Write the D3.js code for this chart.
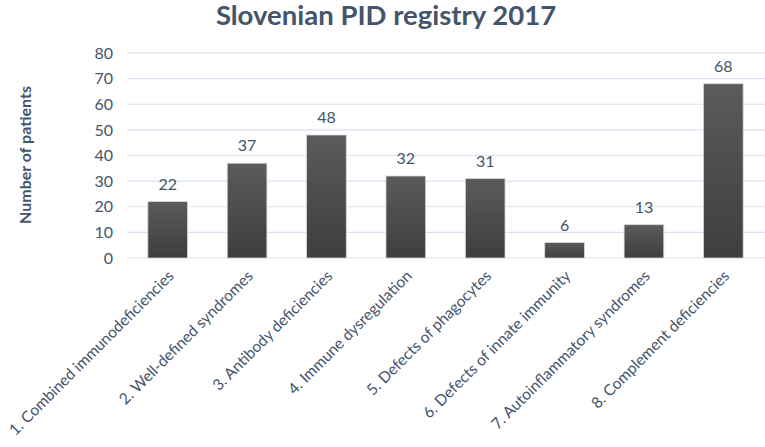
<!DOCTYPE html>
<html>
<head>
<meta charset="utf-8">
<script src="https://cdn.jsdelivr.net/npm/d3@7"></script>
<style>
  body { margin: 0; background: #fff; }
  text { font-family: Lato, "Open Sans", sans-serif; fill: #44546a; }
</style>
</head>
<body>
<div id="chart"></div>
<script>
// values
var categories = [
    "1. Combined immunodeficiencies",
    "2. Well-defined syndromes",
    "3. Antibody deficiencies",
    "4. Immune dysregulation",
    "5. Defects of phagocytes",
    "6. Defects of innate immunity",
    "7. Autoinflammatory syndromes",
    "8. Complement deficiencies"
];
var patients = [22, 37, 48, 32, 31, 6, 13, 68];
var yTicks = [0, 10, 20, 30, 40, 50, 60, 70, 80];

var width = 765, height = 447;
var plotLeft = 128, plotRight = 763, plotTop = 53, plotBottom = 258;

var svg = d3.select("#chart")
    .append("svg")
    .attr("width", width)
    .attr("height", height);

var grad = svg.append("defs")
    .append("linearGradient")
    .attr("id", "barFill")
    .attr("x1", 0).attr("y1", 0)
    .attr("x2", 0).attr("y2", 1);
grad.append("stop").attr("offset", "0%").attr("stop-color", "#5b5b5b");
grad.append("stop").attr("offset", "100%").attr("stop-color", "#3e3e3e");

var x = d3.scaleBand()
    .domain(categories)
    .range([plotLeft, plotRight])
    .paddingInner(0.5)
    .paddingOuter(0.25);

var y = d3.scaleLinear()
    .domain([0, 80])
    .range([plotBottom, plotTop]);

// gridlines
svg.append("g")
    .selectAll("line")
    .data(yTicks)
    .enter()
    .append("line")
    .attr("x1", plotLeft)
    .attr("x2", width)
    .attr("y1", function(d){ return y(d); })
    .attr("y2", function(d){ return y(d); })
    .attr("stroke", "#d9e1f0")
    .attr("stroke-width", 1.2);

// y axis labels
var yAxis = d3.axisLeft(y).tickValues(yTicks).tickSize(0).tickPadding(15);
var gy = svg.append("g")
    .attr("transform", "translate(" + plotLeft + ",0)")
    .call(yAxis);
gy.select(".domain").remove();
gy.selectAll("text")
    .style("font-size", "16px")
    .style("font-family", "Lato, sans-serif")
    .attr("fill", "#44546a");

// bars
svg.append("g")
    .selectAll("rect")
    .data(patients)
    .enter()
    .append("rect")
    .attr("x", function(d, i){ return x(categories[i]); })
    .attr("y", function(d){ return y(d); })
    .attr("width", x.bandwidth())
    .attr("height", function(d){ return y(0) - y(d); })
    .attr("fill", "url(#barFill)")
    .attr("stroke", "#d8d8d8")
    .attr("stroke-width", 0.8);

// value labels
svg.append("g")
    .selectAll("text")
    .data(patients)
    .enter()
    .append("text")
    .attr("x", function(d, i){ return x(categories[i]) + x.bandwidth() / 2; })
    .attr("y", function(d){ return y(d) - 12; })
    .attr("text-anchor", "middle")
    .style("font-size", "16px")
    .text(function(d){ return d; });

// x axis labels
var xAxis = d3.axisBottom(x).tickSize(0).tickPadding(0);
var gx = svg.append("g")
    .attr("transform", "translate(0," + plotBottom + ")")
    .call(xAxis);
gx.select(".domain").remove();
gx.selectAll("text")
    .attr("fill", "#44546a")
    .style("font-size", "15.5px")
    .style("font-family", "Lato, sans-serif")
    .attr("text-anchor", "end")
    .attr("dy", 0)
    .attr("transform", "translate(7,19) rotate(-45)");

// y axis title
svg.append("text")
    .attr("transform", "translate(31,155) rotate(-90)")
    .attr("text-anchor", "middle")
    .style("font-size", "16px")
    .style("font-weight", "bold")
    .text("Number of patients");

// title
svg.append("text")
    .attr("x", 386)
    .attr("y", 25)
    .attr("text-anchor", "middle")
    .style("font-size", "27.5px")
    .style("font-weight", "bold")
    .text("Slovenian PID registry 2017");
</script>
</body>
</html>
